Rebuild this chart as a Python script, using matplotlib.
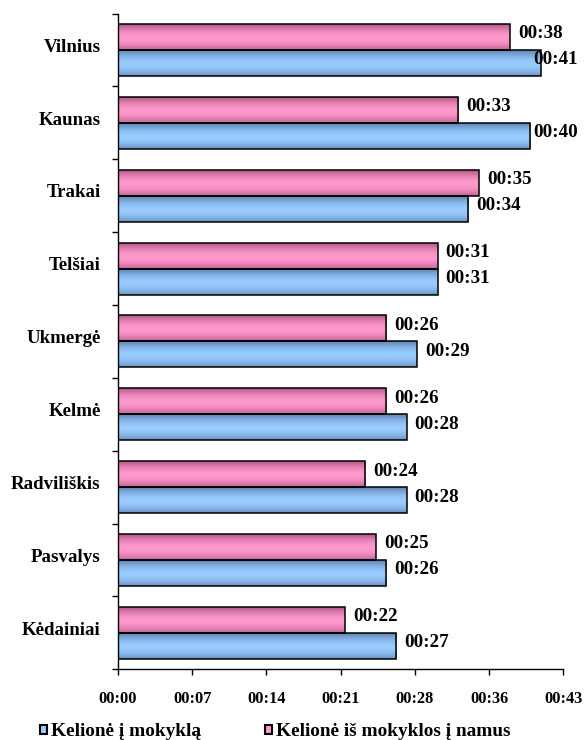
import numpy as np
import matplotlib
matplotlib.use("Agg")
import matplotlib.pyplot as plt
from matplotlib.patches import Patch
from matplotlib.ticker import FixedLocator, MultipleLocator, FuncFormatter, NullFormatter
from matplotlib.font_manager import FontProperties

# Average travel time, minutes
cities = ["Vilnius", "Kaunas", "Trakai", "Telšiai", "Ukmergė",
          "Kelmė", "Radviliškis", "Pasvalys", "Kėdainiai"]
to_school = [41, 40, 34, 31, 29, 28, 28, 26, 27]
from_school = [38, 33, 35, 31, 26, 26, 24, 25, 22]
series_names = ["Kelionė į mokyklą", "Kelionė iš mokyklos į namus"]

FAMILY = "Liberation Serif"
W, H, DPI = 584, 740, 100

blue_base = np.array([153, 204, 255]) / 255
blue_dark = np.array([96, 132, 178]) / 255
pink_base = np.array([255, 153, 204]) / 255
pink_dark = np.array([178, 88, 136]) / 255


def shade(base, dark, n=64):
    t = np.linspace(0, 1, n)
    a = np.clip(np.abs(t - 0.55) / 0.5, 0, 1) ** 1.8
    col = base[None, :] * (1 - a[:, None]) + dark[None, :] * a[:, None]
    return col[:, None, :]


fig = plt.figure(figsize=(W / DPI, H / DPI), dpi=DPI)
ax = fig.add_axes([118 / W, 1 - 669.3 / H, (563.3 - 118) / W, (669.3 - 13.5) / H])

y = np.arange(len(cities))
h = 0.357
bars_from = ax.barh(y - h / 2, from_school, height=h, facecolor="none",
                    edgecolor="black", linewidth=1.1, zorder=3)
bars_to = ax.barh(y + h / 2, to_school, height=h, facecolor="none",
                  edgecolor="black", linewidth=1.1, zorder=3)

grad_pink = shade(pink_base, pink_dark)
grad_blue = shade(blue_base, blue_dark)
for bars, grad in ((bars_from, grad_pink), (bars_to, grad_blue)):
    for p in bars:
        x0, y0, w, hh = p.get_x(), p.get_y(), p.get_width(), p.get_height()
        im = ax.imshow(grad, extent=(x0, x0 + w, y0 + hh, y0), origin="upper",
                       aspect="auto", interpolation="bilinear", zorder=2)
        im.set_clip_path(p)

ax.set_xlim(0, 43.2)
ax.set_ylim(len(cities) - 0.5, -0.5)

for s in ("top", "right"):
    ax.spines[s].set_visible(False)
for s in ("left", "bottom"):
    ax.spines[s].set_linewidth(1.0)
    ax.spines[s].set_color("black")

tick_font = FontProperties(family=FAMILY, weight="bold", size=11.8)
cat_font = FontProperties(family=FAMILY, weight="bold", size=13.6)
val_font = FontProperties(family=FAMILY, weight="bold", size=13.7)
leg_font = FontProperties(family=FAMILY, weight="bold", size=13.9)

# x axis: ticks every 0.005 day (7.2 min)
ax.xaxis.set_major_locator(MultipleLocator(7.2))
ax.xaxis.set_major_formatter(FuncFormatter(lambda v, p: f"00:{int(v + 1e-6):02d}"))
ax.tick_params(axis="x", direction="out", length=4.3, width=1.0, pad=11)
for lbl in ax.get_xticklabels():
    lbl.set_fontproperties(tick_font)

# y axis: ticks on category boundaries, city names at category centres
ax.yaxis.set_major_locator(FixedLocator(np.arange(-0.5, len(cities), 1.0)))
ax.yaxis.set_major_formatter(NullFormatter())
ax.tick_params(axis="y", which="major", direction="out", length=4.3, width=1.0)
for yi, name in zip(y, cities):
    ax.annotate(name, xy=(0, yi), xycoords=("axes fraction", "data"),
                xytext=(-12.4, 2.0), textcoords="offset points",
                ha="right", va="center", fontproperties=cat_font,
                annotation_clip=False)

# value labels
anns = []
for bars, vals in ((bars_from, from_school), (bars_to, to_school)):
    for p, v in zip(bars, vals):
        a = ax.annotate(f"00:{v:02d}",
                        xy=(p.get_x() + p.get_width(), p.get_y() + p.get_height() / 2),
                        xytext=(5.8, 2.2), textcoords="offset points",
                        ha="left", va="center", fontproperties=val_font, zorder=5)
        anns.append(a)

fig.canvas.draw()
renderer = fig.canvas.get_renderer()
limit = 578
for a in anns:
    bb = a.get_window_extent(renderer)
    if bb.x1 > limit:
        ox, oy = a.xyann
        a.xyann = (ox - (bb.x1 - limit) * 72 / DPI, oy)

handles = [Patch(facecolor=blue_base, edgecolor="black", linewidth=1.5),
           Patch(facecolor=pink_base, edgecolor="black", linewidth=1.5)]
fig.legend(handles, series_names, loc="center left",
           bbox_to_anchor=(40 / W, 1 - 732 / H), ncol=2, frameon=False,
           borderpad=0, borderaxespad=0, handlelength=0.38, handleheight=0.38,
           handletextpad=0.2, columnspacing=3.3, prop=leg_font)

fig.savefig("out.png", dpi=DPI)
